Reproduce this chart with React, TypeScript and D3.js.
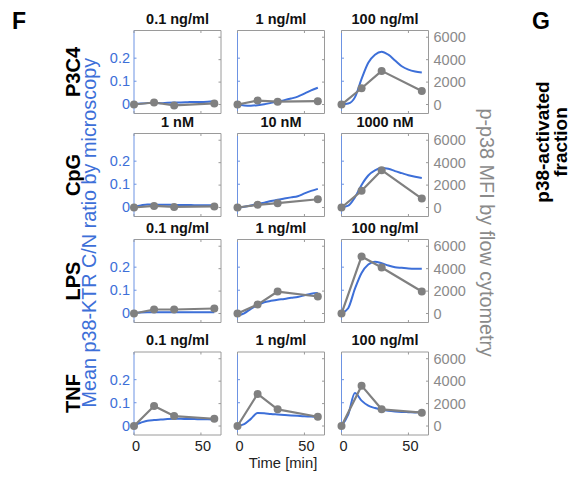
import React from "react";
import * as d3 from "d3";

// ---- data ----
const stimuli = ["P3C4", "CpG", "LPS", "TNF"];
const doseTitles = [
  ["0.1 ng/ml", "1 ng/ml", "100 ng/ml"],
  ["1 nM", "10 nM", "1000 nM"],
  ["0.1 ng/ml", "1 ng/ml", "100 ng/ml"],
  ["0.1 ng/ml", "1 ng/ml", "100 ng/ml"],
];
const microTimes = [0, 5, 10, 15, 20, 25, 30, 35, 40, 45, 50, 55, 60];
const flowTimes = [0, 15, 30, 60];

const p3c4Micro = [
  [0, 0.003, 0.005, 0.006, 0.005, 0.007, 0.008, 0.008, 0.009, 0.01, 0.01, 0.011, 0.013],
  [0, -0.005, -0.006, -0.004, 0.0, 0.006, 0.012, 0.018, 0.025, 0.033, 0.046, 0.06, 0.072],
  [0, 0.003, 0.03, 0.11, 0.18, 0.215, 0.228, 0.215, 0.19, 0.165, 0.15, 0.142, 0.138],
];
const cpgMicro = [
  [0.003, 0.008, 0.012, 0.012, 0.011, 0.011, 0.01, 0.01, 0.01, 0.009, 0.009, 0.009, 0.009],
  [-0.002, 0.002, 0.008, 0.015, 0.02, 0.027, 0.033, 0.038, 0.043, 0.048, 0.06, 0.071, 0.08],
  [0, 0.007, 0.043, 0.097, 0.138, 0.16, 0.17, 0.167, 0.157, 0.148, 0.139, 0.132, 0.127],
];
const lpsMicro = [
  [0, 0.003, 0.004, 0.004, 0.004, 0.004, 0.004, 0.004, 0.004, 0.004, 0.004, 0.005, 0.005],
  [-0.01, 0, 0.019, 0.036, 0.048, 0.054, 0.059, 0.062, 0.067, 0.071, 0.078, 0.085, 0.088],
  [0, 0.022, 0.106, 0.175, 0.212, 0.224, 0.217, 0.207, 0.2, 0.197, 0.194, 0.193, 0.193],
];
const tnfMicro = [
  [0.003, 0.013, 0.022, 0.025, 0.027, 0.029, 0.03, 0.03, 0.029, 0.029, 0.028, 0.028, 0.027],
  [0, 0.007, 0.03, 0.055, 0.054, 0.051, 0.049, 0.047, 0.045, 0.043, 0.041, 0.04, 0.038],
  [0, 0.048, 0.142, 0.109, 0.087, 0.077, 0.07, 0.065, 0.062, 0.06, 0.059, 0.058, 0.06],
];

const p3c4Flow = [
  [0, 180, -80, 100],
  [0, 350, 250, 300],
  [0, 1450, 3000, 1200],
];
const cpgFlow = [
  [0, 140, 50, 100],
  [0, 240, 390, 740],
  [0, 1490, 3330, 800],
];
const lpsFlow = [
  [0, 360, 360, 450],
  [0, 800, 1960, 1520],
  [0, 5090, 4100, 1960],
];
const tnfFlow = [
  [0, 1790, 890, 650],
  [0, 2860, 1490, 830],
  [0, 3600, 1490, 1190],
];

const microData = [p3c4Micro, cpgMicro, lpsMicro, tnfMicro];
const flowData = [p3c4Flow, cpgFlow, lpsFlow, tnfFlow];

const leftTicks = [0, 0.1, 0.2];
const leftTickLabels = ["0", "0.1", "0.2"];
const rightTicks = [0, 2000, 4000, 6000];
const xTicks = [0, 50];

// ---- layout / style ----
const W = 573;
const H = 486;
const colX = [134, 237.5, 341.5];
const rowY = [30.5, 133.5, 239.5, 352];
const PW = 87;
const PH = 83;
const BLUE = "#3d6fd8";
const BLUE_AX = "#6d93e3";
const GREY = "#808080";
const GREY_AX = "#9a9a9a";
const GREY_TXT = "#8a8a8a";
const FONT = "'Liberation Sans', Arial, Helvetica, sans-serif";

const x = d3.scaleLinear().domain([0, 65]).range([0, PW]);
const yL = d3.scaleLinear().domain([-0.04, 0.32]).range([PH, 0]);
const yR = d3.scaleLinear().domain([-800, 6600]).range([PH, 0]);

const blueLine = d3
  .line<number>()
  .x((_, i) => x(microTimes[i]))
  .y((d) => yL(d))
  .curve(d3.curveMonotoneX);
const greyLine = d3
  .line<number>()
  .x((_, i) => x(flowTimes[i]))
  .y((d) => yR(d));

function Panel({ r, c }: { r: number; c: number }) {
  const tx = colX[c];
  const ty = rowY[r];
  const micro = microData[r][c];
  const flow = flowData[r][c];
  const tl = 2.5;
  return (
    <g transform={`translate(${tx},${ty})`}>
      <text
        x={PW / 2}
        y={-7}
        textAnchor="middle"
        fontFamily={FONT}
        fontWeight="bold"
        fontSize={14.5}
        fill="#111"
      >
        {doseTitles[r][c]}
      </text>
      <line x1={0} x2={PW} y1={0} y2={0} stroke={GREY_AX} strokeWidth={1} />
      <line x1={0} x2={PW} y1={PH} y2={PH} stroke={GREY_AX} strokeWidth={1} />
      <line x1={PW} x2={PW} y1={0} y2={PH} stroke={GREY_AX} strokeWidth={1} />
      <line x1={0} x2={0} y1={0} y2={PH} stroke={BLUE_AX} strokeWidth={1} />
      {leftTicks.map((t) => (
        <line key={"l" + t} x1={0} x2={tl} y1={yL(t)} y2={yL(t)} stroke={BLUE_AX} strokeWidth={1} />
      ))}
      {rightTicks.map((t) => (
        <line key={"r" + t} x1={PW - tl} x2={PW} y1={yR(t)} y2={yR(t)} stroke={GREY_AX} strokeWidth={1} />
      ))}
      {xTicks.map((t) => (
        <g key={"x" + t}>
          <line x1={x(t)} x2={x(t)} y1={PH} y2={PH - tl} stroke={GREY_AX} strokeWidth={1} />
          <line x1={x(t)} x2={x(t)} y1={0} y2={tl} stroke={GREY_AX} strokeWidth={1} />
        </g>
      ))}
      {c === 0 &&
        leftTicks.map((t, i) => (
          <text
            key={"ll" + t}
            x={-4}
            y={yL(t)}
            dy="0.35em"
            textAnchor="end"
            fontFamily={FONT}
            fontSize={14.5}
            fill={BLUE}
          >
            {leftTickLabels[i]}
          </text>
        ))}
      {c === 2 &&
        rightTicks.map((t) => (
          <text
            key={"rl" + t}
            x={PW + 5}
            y={yR(t)}
            dy="0.35em"
            textAnchor="start"
            fontFamily={FONT}
            fontSize={14.5}
            fill={GREY_TXT}
          >
            {String(t)}
          </text>
        ))}
      {r === 3 &&
        xTicks.map((t) => (
          <text
            key={"xl" + t}
            x={x(t) + 2}
            y={PH + 15.5}
            textAnchor="middle"
            fontFamily={FONT}
            fontSize={14.5}
            fill="#222"
          >
            {String(t)}
          </text>
        ))}
      <path d={blueLine(micro) || ""} fill="none" stroke={BLUE} strokeWidth={2} strokeLinejoin="round" />
      <path d={greyLine(flow) || ""} fill="none" stroke={GREY} strokeWidth={2.2} strokeLinejoin="round" />
      {flow.map((v, i) => (
        <circle key={"m" + i} cx={x(flowTimes[i])} cy={yR(v)} r={4} fill={GREY} />
      ))}
    </g>
  );
}

export default function App() {
  const midY = (rowY[0] + rowY[3] + PH) / 2;
  return (
    <svg
      width={W}
      height={H}
      viewBox={`0 0 ${W} ${H}`}
      style={{ position: "absolute", left: 0, top: 0, background: "#fff" }}
    >
      <rect x={0} y={0} width={W} height={H} fill="#fff" />
      <text x={12} y={28.5} fontFamily={FONT} fontWeight="bold" fontSize={23} fill="#000">
        F
      </text>
      <text x={532} y={28.5} fontFamily={FONT} fontWeight="bold" fontSize={23} fill="#000">
        G
      </text>
      {stimuli.map((s, r) => (
        <text
          key={s}
          transform={`translate(80,${rowY[r] + PH / 2}) rotate(-90)`}
          textAnchor="middle"
          fontFamily={FONT}
          fontWeight="bold"
          fontSize={20}
          fill="#000"
        >
          {s}
        </text>
      ))}
      <text
        transform={`translate(96,${midY}) rotate(-90)`}
        textAnchor="middle"
        fontFamily={FONT}
        fontSize={19.8}
        fill={BLUE}
      >
        Mean p38-KTR C/N ratio by microscopy
      </text>
      <text
        transform={`translate(480,${midY}) rotate(90)`}
        textAnchor="middle"
        fontFamily={FONT}
        fontSize={19.8}
        fill={GREY_TXT}
      >
        p-p38 MFI by flow cytometry
      </text>
      <text
        transform={`translate(549,142) rotate(-90)`}
        textAnchor="middle"
        fontFamily={FONT}
        fontWeight="bold"
        fontSize={19}
        fill="#000"
      >
        p38-activated
      </text>
      <text
        transform={`translate(567,142) rotate(-90)`}
        textAnchor="middle"
        fontFamily={FONT}
        fontWeight="bold"
        fontSize={19}
        fill="#000"
      >
        fraction
      </text>
      {stimuli.map((s, r) => [0, 1, 2].map((c) => <Panel key={s + c} r={r} c={c} />))}
      <text
        x={colX[1] + PW / 2 + 2}
        y={468}
        textAnchor="middle"
        fontFamily={FONT}
        fontSize={14.8}
        fill="#222"
      >
        Time [min]
      </text>
    </svg>
  );
}
